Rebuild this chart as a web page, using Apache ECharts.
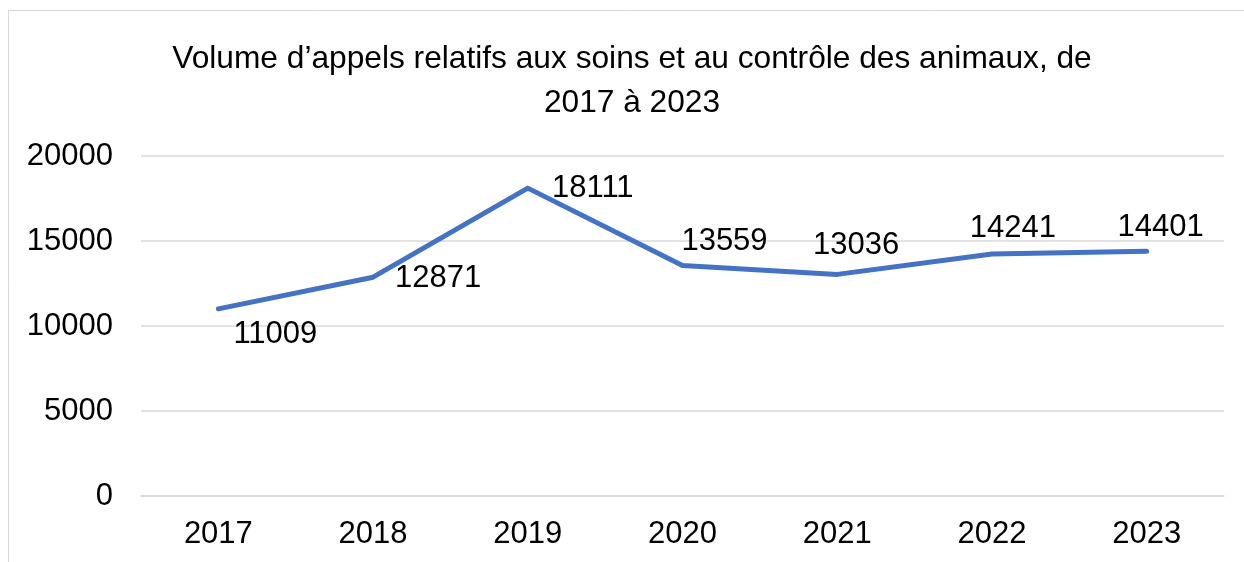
<!DOCTYPE html>
<html>
<head>
<meta charset="utf-8">
<script src="https://cdn.jsdelivr.net/npm/echarts@6/dist/echarts.min.js"></script>
<style>
html, body { margin: 0; padding: 0; background: #fff; }
#chart { width: 1244px; height: 562px; }
</style>
</head>
<body>
<div id="chart"></div>
<script>
// données
var years = ['2017', '2018', '2019', '2020', '2021', '2022', '2023']
var calls = [11009, 12871, 18111, 13559, 13036, 14241, 14401]
var yTicks = [0, 5000, 10000, 15000, 20000]
// décalage de chaque étiquette par rapport au point
var labelOffsets = [[57, 26], [65, 1], [65, 0], [42, -24], [19, -29], [21, -25], [14, -24]]

var chart = echarts.init(document.getElementById('chart'))
var font = '"Liberation Sans", Arial, sans-serif'

var option = {
  animation: false,
  backgroundColor: '#fff',
  graphic: [{
    type: 'rect',
    shape: { x: 8.5, y: 10.5, width: 1240, height: 560 },
    style: { fill: 'none', stroke: '#d9d9d9', lineWidth: 1 },
    silent: true
  }],
  title: {
    text: 'Volume d\u2019appels relatifs aux soins et au contrôle des animaux, de\n2017 à 2023',
    left: 627,
    top: 32,
    textAlign: 'center',
    textStyle: {
      fontFamily: font,
      fontSize: 31.7,
      fontWeight: 'normal',
      color: '#000',
      lineHeight: 44
    }
  },
  grid: {
    left: 141,
    right: 20,
    top: 156,
    bottom: 66,
    containLabel: false
  },
  xAxis: {
    type: 'category',
    data: years,
    boundaryGap: true,
    axisLine: { lineStyle: { color: '#d9d9d9', width: 1.5 } },
    axisTick: { show: false },
    axisLabel: {
      margin: 23,
      fontFamily: font,
      fontSize: 31,
      color: '#000'
    }
  },
  yAxis: {
    type: 'value',
    min: yTicks[0],
    max: yTicks[yTicks.length - 1],
    interval: yTicks[1] - yTicks[0],
    axisLine: { show: false },
    axisTick: { show: false },
    splitLine: { lineStyle: { color: '#d9d9d9', width: 1.5 } },
    axisLabel: {
      margin: 28,
      fontFamily: font,
      fontSize: 31,
      color: '#000',
      formatter: function (v) { return String(v) }
    }
  },
  series: [{
    type: 'line',
    data: calls.map(function (v, i) {
      return {
        value: v,
        label: { offset: labelOffsets[i] }
      }
    }),
    symbol: 'circle',
    symbolSize: 1,
    showSymbol: true,
    lineStyle: { color: '#4472C4', width: 5, cap: 'round', join: 'round' },
    itemStyle: { color: '#4472C4' },
    label: {
      show: true,
      position: 'inside',
      fontFamily: font,
      fontSize: 31,
      color: '#000'
    }
  }]
}
chart.setOption(option)
</script>
</body>
</html>
